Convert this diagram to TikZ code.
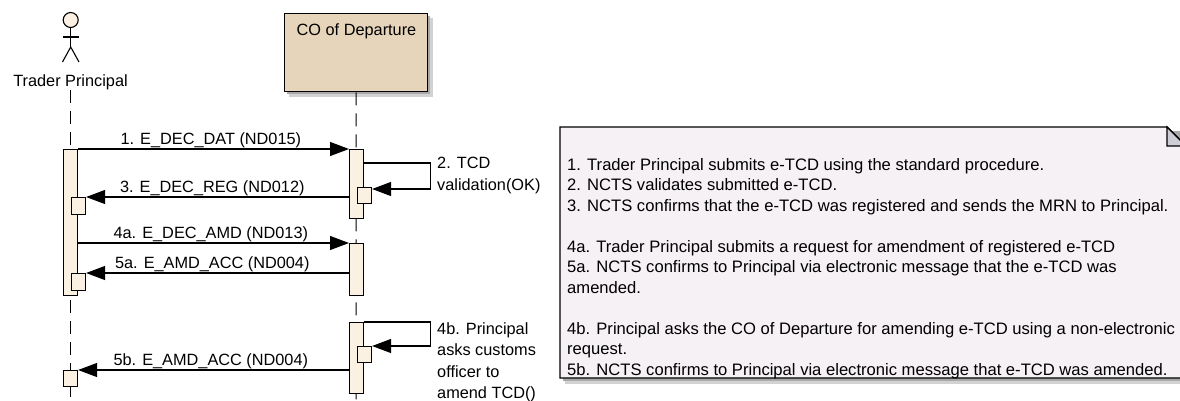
\documentclass[tikz,border=0pt]{standalone}
\usepackage{fontspec}
\setmainfont{Liberation Sans}
\usetikzlibrary{arrows.meta,calc}
\definecolor{actfill}{HTML}{FBF1E3}
\definecolor{cofill}{HTML}{E6D5BA}
\definecolor{notefill}{HTML}{F6F1F5}
\definecolor{foldfill}{HTML}{CDCDD6}
\definecolor{shadowa}{HTML}{D2D2D2}
\definecolor{shadowb}{HTML}{A9A9A9}
\begin{document}
\begin{tikzpicture}[x=1pt,y=-1pt,
  act/.style={draw=black, fill=actfill, line width=1.1pt, minimum width=14pt, inner sep=0pt, anchor=north west, rectangle},
  msg/.style={draw=black, line width=1.1pt, -{Triangle[length=19pt,width=14pt]}},
  lbl/.style={font=\fontsize{16.3}{21.5}\selectfont, inner sep=0pt},
  life/.style={draw=black, line width=1pt, dash pattern=on 13pt off 8pt},
  ntxt/.style={font=\fontsize{16.6}{20}\selectfont, inner sep=0pt, anchor=base west},
  actor/.style={draw=black, line width=1.1pt},
]
\useasboundingbox (0,0) rectangle (1180,400);

% ---------- actor ----------
\node[circle, draw=black, fill=actfill, line width=1.1pt, minimum size=15pt, inner sep=0pt] (head) at (70.7,20) {};
\coordinate (hip) at (70.7,47);
\coordinate (arml) at (62.5,37);
\coordinate (armr) at (79,37);
\coordinate (legl) at (62.5,62);
\coordinate (legr) at (79,62);
\draw[actor] (head.south) -- (hip);
\draw[actor] (arml) -- (armr);
\draw[actor] (legl) -- (hip) -- (legr);
\node[lbl, anchor=base] (tname) at (70.5,86) {Trader Principal};

% ---------- CO of Departure ----------
\fill[shadowa] (289,18) rectangle (433,97);
\fill[shadowb] (287,16) rectangle (430,94);
\node[draw=black, fill=cofill, line width=1.4pt, anchor=north west, minimum width=143pt, minimum height=78pt, inner sep=0pt] (co) at (284,13) {};
\node[lbl, anchor=base] (cotxt) at (356.5,35) {CO of Departure};

% ---------- lifelines ----------
\coordinate (tl0) at (70.5,90);
\coordinate (tl1) at (70.5,400);
\coordinate (cl1) at (356,400);
\draw[life] (tl0) -- (tl1);
\draw[life] (co.south) -- (cl1);

% ---------- activations ----------
\node[act, minimum height=146pt] (ta1) at (63,149) {};
\node[act, minimum height=17pt] (tn1) at (71,197) {};
\node[act, minimum height=17pt] (tn2) at (71,273) {};
\node[act, minimum height=16pt] (ta3) at (63,370) {};
\node[act, minimum height=69pt] (ca1) at (349,149) {};
\node[act, minimum height=16pt] (cn1) at (357,187) {};
\node[act, minimum height=52pt] (ca2) at (349,243) {};
\node[act, minimum height=71pt] (ca3) at (349,322) {};
\node[act, minimum height=16pt] (cn3) at (357,346) {};

% ---------- messages ----------
\draw[msg] (ta1.north east) -- node[lbl, pos=0.49, anchor=base, yshift=5pt] {1. E\_DEC\_DAT (ND015)} (ca1.north west);
\draw[msg] ([yshift=-14pt]ca1.north east) -- ++(66,0) |- ([yshift=-2pt]cn1.north east);
\node[lbl, anchor=north west, align=left] (m2) at (437,157) {2. TCD\\validation(OK)};
\draw[msg] (ca1.west |- tn1.north) -- node[lbl, pos=0.52, anchor=base, yshift=5pt] {3. E\_DEC\_REG (ND012)} (tn1.north east);
\draw[msg] (ta1.east |- ca2.north) -- node[lbl, pos=0.49, anchor=base, yshift=5pt] {4a. E\_DEC\_AMD (ND013)} (ca2.north west);
\draw[msg] (ca2.west |- tn2.north) -- node[lbl, pos=0.52, anchor=base, yshift=5pt] {5a. E\_AMD\_ACC (ND004)} (tn2.north east);
\draw[msg] (ca3.north east) -- ++(66,0) |- (cn3.north east);
\node[lbl, anchor=north west, align=left] (m4b) at (437,322) {4b. Principal\\asks customs\\officer to\\amend TCD()};
\draw[msg] (ca3.west |- ta3.north) -- node[lbl, pos=0.51, anchor=base, yshift=5pt] {5b. E\_AMD\_ACC (ND004)} (ta3.north east);

% ---------- note ----------
\fill[shadowa] (565,133) -- (1192,133) -- (1192,384) -- (565,384) -- cycle;
\fill[shadowb] (563,131) -- (1189,131) -- (1189,381) -- (563,381) -- cycle;
\draw[fill=notefill, line width=1.4pt] (560,127) -- (1167,127) -- (1186,146) -- (1186,378) -- (560,378) -- cycle;
\draw[fill=foldfill, line width=1.1pt] (1167,127) -- (1167,146) -- (1186,146) -- cycle;
\node[ntxt] (n1) at (567,170) {1. Trader Principal submits e-TCD using the standard procedure.};
\node[ntxt] (n2) at (567,190.5) {2. NCTS validates submitted e-TCD.};
\node[ntxt] (n3) at (567,211) {3. NCTS confirms that the e-TCD was registered and sends the MRN to Principal.};
\node[ntxt] (n4) at (567,252) {4a. Trader Principal submits a request for amendment of registered e-TCD};
\node[ntxt] (n5) at (567,272.5) {5a. NCTS confirms to Principal via electronic message that the e-TCD was};
\node[ntxt] (n6) at (567,293) {amended.};
\node[ntxt] (n7) at (567,334) {4b. Principal asks the CO of Departure for amending e-TCD using a non-electronic};
\node[ntxt] (n8) at (567,354.5) {request.};
\node[ntxt] (n9) at (567,375) {5b. NCTS confirms to Principal via electronic message that e-TCD was amended.};
\end{tikzpicture}
\end{document}
